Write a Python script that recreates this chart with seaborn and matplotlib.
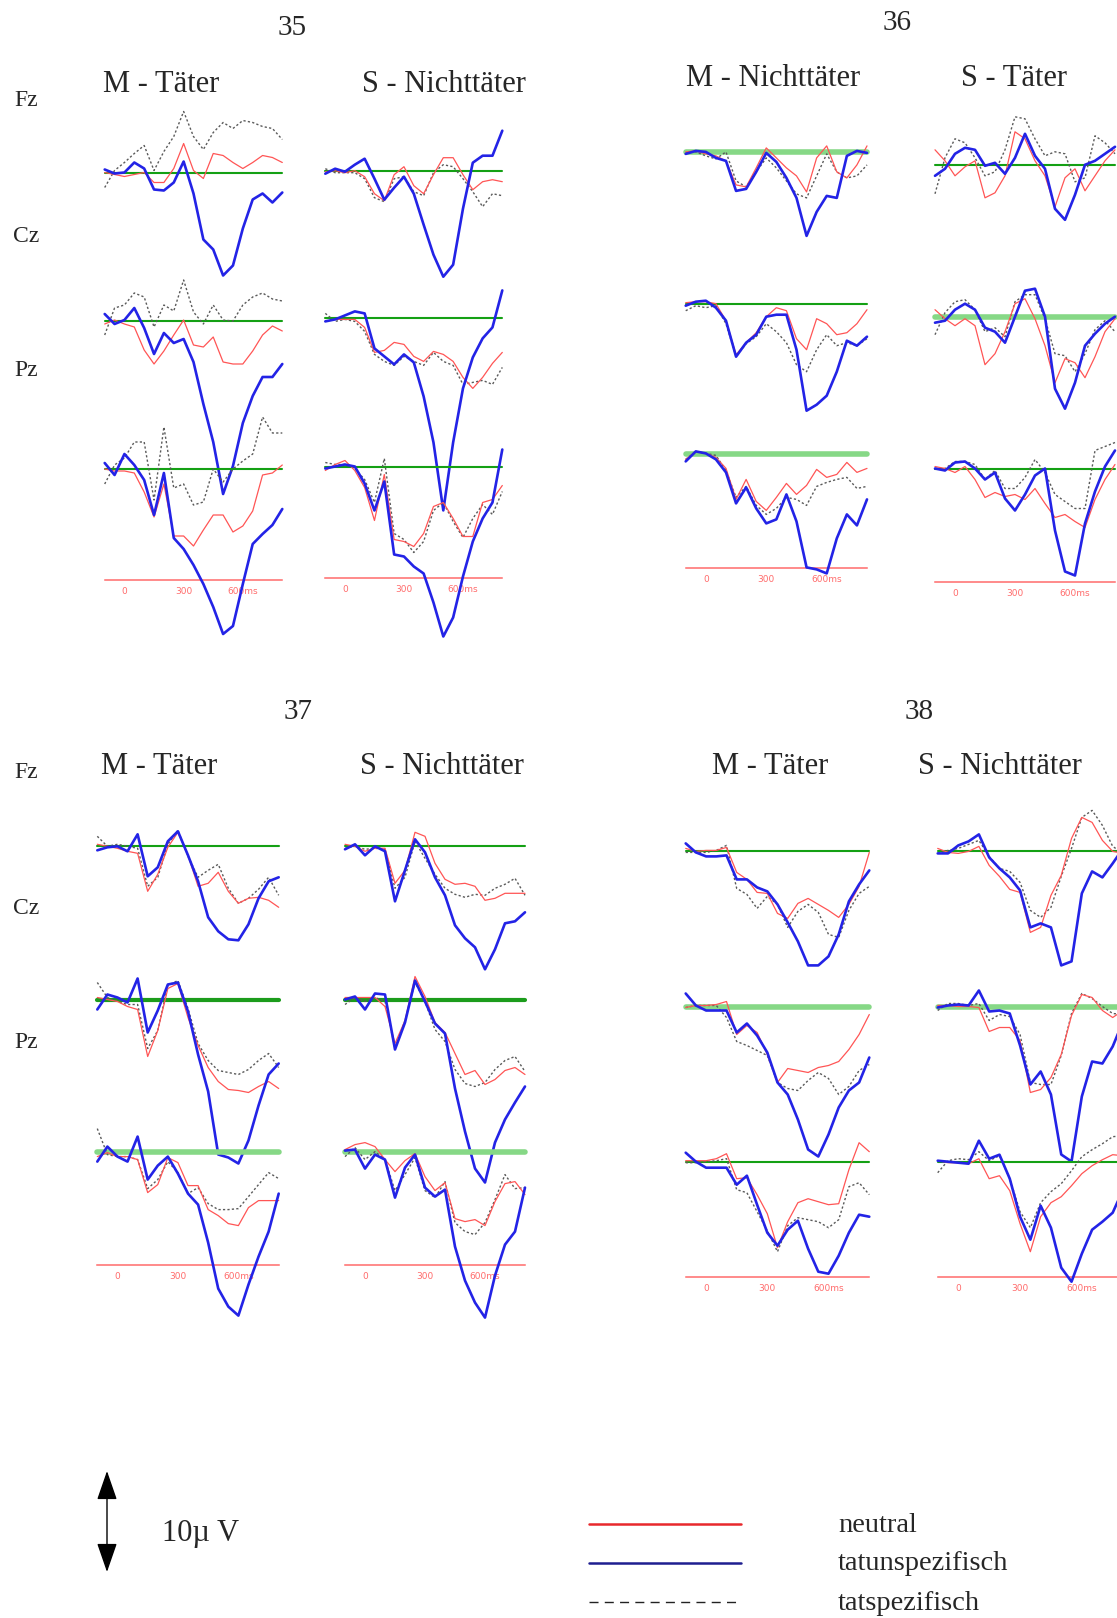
import matplotlib
matplotlib.use("Agg")
import matplotlib.pyplot as plt
from matplotlib.lines import Line2D
from matplotlib.patches import FancyArrowPatch
import seaborn as sns

sns.set_style("white")
plt.rcParams["font.family"] = ["Liberation Serif", "DejaVu Serif"]

# ---------------- data ----------------
TIMES = [-100, -50, 0, 50, 100, 150, 200, 250, 300, 350, 400, 450, 500, 550, 600, 650, 700, 750, 800]
TICKS = [0, 300, 600]
TICK_LABELS = ["0", "300", "600ms"]
SUBJECTS = ["35", "36", "37", "38"]
CONDS = ["M", "S"]
ELECTRODES = ["Fz", "Cz", "Pz"]
TITLES = {("35", "M"): "M - Täter", ("35", "S"): "S - Nichttäter",
          ("36", "M"): "M - Nichttäter", ("36", "S"): "S - Täter",
          ("37", "M"): "M - Täter", ("37", "S"): "S - Nichttäter",
          ("38", "M"): "M - Täter", ("38", "S"): "S - Nichttäter"}
LEGEND_LABELS = ["neutral", "tatunspezifisch", "tatspezifisch"]
SCALE_LABEL = "10µ V"

# amplitudes in µV (positive plotted downwards)
s35_M_Fz_neu = [0, 0.2, 0.4, 0.2, 0, 1.0, 1.0, -0.4, -2.9, -0.2, 0.6, -1.9, -1.7, -1.0, -0.4, -1.0, -1.7, -1.5, -1.0]
s35_M_Fz_uns = [-0.3, 0.1, 0, -1.0, -0.4, 1.7, 1.8, 1.0, -1.1, 2.1, 6.7, 7.7, 10.3, 9.3, 5.6, 2.7, 2.1, 3.0, 2.0]
s35_M_Fz_spz = [1.5, -0.2, -1.0, -1.9, -2.7, -0.2, -2.1, -3.6, -6.1, -3.6, -2.3, -4.0, -5.0, -4.4, -5.2, -5.0, -4.6, -4.4, -3.3]
s35_M_Cz_neu = [0.3, -0.1, 0.3, 0.6, 2.9, 4.3, 3.0, 1.4, -0.1, 2.4, 2.6, 1.6, 4.1, 4.3, 4.3, 3.0, 1.4, 0.5, 1.0]
s35_M_Cz_uns = [-0.7, 0.3, -0.1, -1.3, 0.7, 3.3, 1.2, 2.2, 1.8, 4.1, 8.3, 12.1, 17.3, 14.5, 10.2, 7.5, 5.6, 5.6, 4.3]
s35_M_Cz_spz = [1.4, -1.3, -1.6, -2.8, -2.4, 0.6, -1.6, -1.0, -4.1, -0.9, 0.3, -1.6, -0.1, 0.0, -1.6, -2.4, -2.8, -2.2, -2.0]
s35_M_Pz_neu = [0.0, 0.2, 0.2, 0.4, 2.3, 4.8, 1.5, 6.7, 6.7, 7.7, 6.1, 4.6, 4.6, 6.3, 5.7, 4.2, 0.6, 0.4, -0.4]
s35_M_Pz_uns = [-0.6, 0.6, -1.5, -0.4, 1.1, 4.6, 0.4, 6.9, 8.0, 9.6, 11.5, 13.8, 16.5, 15.7, 11.5, 7.5, 6.5, 5.6, 4.0]
s35_M_Pz_spz = [1.5, -0.4, -1.1, -2.7, -2.7, 3.1, -4.2, 1.9, 1.5, 3.6, 3.3, 0.0, 1.3, 0.0, -0.8, -1.5, -5.2, -3.6, -3.6]

s35_S_Fz_neu = [0.1, 0.0, 0.2, 0.0, 0.6, 2.3, 3.0, 0.4, -0.4, 1.5, 2.3, 0.4, -1.3, -1.3, 0.4, 1.9, 1.1, 0.9, 1.1]
s35_S_Fz_uns = [0.3, -0.2, 0.1, -0.6, -1.2, 0.8, 2.9, 1.7, 0.6, 2.3, 5.4, 8.4, 10.6, 9.4, 3.8, -0.8, -1.5, -1.5, -4.0]
s35_S_Fz_spz = [-0.2, 0.2, 0.2, 0.2, 0.8, 2.7, 3.1, 0.8, 0.6, 2.1, 2.5, 0.2, -0.6, -0.4, 0.8, 2.1, 3.6, 2.3, 2.5]
s35_S_Cz_neu = [0.3, 0.1, 0.1, 0.1, 0.9, 3.4, 3.2, 2.4, 2.6, 3.8, 4.3, 3.3, 3.6, 4.3, 5.9, 7.0, 5.9, 4.5, 3.4]
s35_S_Cz_uns = [0.3, 0.1, -0.3, -0.7, -0.5, 3.0, 3.8, 4.6, 3.6, 4.4, 7.8, 12.4, 19.2, 12.4, 7.0, 3.9, 2.0, 0.9, -2.8]
s35_S_Cz_spz = [-0.5, 0.3, 0.1, 0.3, 1.3, 3.6, 4.3, 4.7, 3.8, 4.3, 4.7, 3.4, 4.3, 4.7, 6.6, 6.4, 6.2, 6.6, 4.9]
s35_S_Pz_neu = [0.4, -0.2, -0.6, 0.4, 2.1, 5.4, 0.8, 7.3, 7.5, 8.0, 6.7, 4.0, 3.6, 5.2, 7.0, 7.0, 3.6, 3.3, 1.9]
s35_S_Pz_uns = [0.2, 0.0, -0.2, 0.0, 1.7, 4.4, 1.5, 8.8, 9.0, 10.0, 10.7, 13.6, 17.0, 15.1, 11.0, 7.5, 5.2, 3.6, -1.7]
s35_S_Pz_spz = [-0.4, -0.2, -0.2, 0.2, 1.3, 3.6, -0.8, 6.7, 7.3, 8.6, 7.5, 4.4, 3.6, 5.5, 7.1, 5.2, 3.8, 4.8, 2.5]

s36_M_Fz_neu = [0.0, -0.1, 0.2, 0.4, 0.9, 3.3, 3.5, 1.6, -0.4, 0.6, 1.6, 2.4, 4.0, 0.6, -0.6, 2.0, 2.6, 1.3, -0.6]
s36_M_Fz_uns = [0.2, -0.1, 0.0, 0.6, 0.9, 3.9, 3.7, 2.0, 0.1, 1.0, 2.6, 4.6, 8.4, 6.0, 4.4, 4.6, 0.4, -0.1, 0.1]
s36_M_Fz_spz = [0.1, 0.0, 0.4, 0.7, 0.0, 2.9, 3.5, 2.0, 0.6, 1.6, 2.9, 4.2, 4.6, 2.4, 0.2, 2.0, 2.6, 2.4, 1.3]
s36_M_Cz_neu = [-0.1, -0.2, -0.2, 0.0, 1.7, 5.1, 3.9, 2.9, 1.3, 0.4, 0.7, 3.5, 4.6, 1.5, 2.0, 3.1, 2.9, 2.0, 0.6]
s36_M_Cz_uns = [0.2, -0.2, -0.3, 0.4, 1.7, 5.3, 3.9, 3.1, 1.3, 1.1, 1.1, 4.6, 10.7, 10.1, 9.2, 6.8, 3.7, 4.2, 3.3]
s36_M_Cz_spz = [0.7, 0.2, 0.4, 0.2, 2.0, 5.3, 4.0, 3.3, 2.0, 2.8, 3.9, 6.1, 6.8, 4.6, 3.1, 4.2, 3.9, 4.2, 3.5]
s36_M_Pz_neu = [0.5, -0.3, -0.1, 0.3, 1.4, 4.5, 2.5, 4.7, 5.6, 4.3, 2.9, 4.0, 3.1, 1.5, 2.3, 2.0, 0.8, 1.8, 1.4]
s36_M_Pz_uns = [0.7, -0.3, -0.1, 0.5, 1.8, 4.9, 3.3, 5.4, 6.9, 6.5, 4.0, 6.7, 11.3, 11.5, 11.9, 8.4, 6.0, 7.1, 4.5]
s36_M_Pz_spz = [0.5, -0.3, -0.1, 0.1, 1.6, 4.3, 3.2, 5.1, 6.0, 5.4, 4.3, 4.5, 5.1, 3.2, 2.8, 2.5, 2.3, 3.4, 3.2]

s36_S_Fz_neu = [-1.5, -0.4, 1.1, 0.2, -0.4, 3.3, 2.8, 1.1, -3.3, -2.6, -0.4, 1.1, 4.2, 1.3, 0.4, 2.6, 1.1, -0.4, -1.5]
s36_S_Fz_uns = [1.1, 0.4, -1.1, -1.7, -1.5, 0.1, -0.2, 0.9, -0.7, -3.1, -0.9, 0.4, 4.4, 5.5, 3.0, 0.0, -0.4, -1.1, -1.8]
s36_S_Fz_spz = [2.9, -0.7, -2.6, -2.2, -0.7, 1.1, 0.7, -1.5, -4.8, -4.6, -2.6, -0.9, -1.3, -1.1, 1.7, 1.3, -2.9, -2.2, -1.1]
s36_S_Cz_neu = [-0.7, 0.2, 0.9, 0.2, 0.9, 4.8, 3.7, 1.5, -1.3, -1.8, 0.2, 2.9, 6.6, 4.2, 4.6, 6.1, 4.0, 1.5, 0.2]
s36_S_Cz_uns = [0.6, 0.4, -0.7, -1.3, -0.7, 1.1, 1.5, 2.6, 0.0, -2.6, -2.8, 0.0, 7.2, 9.2, 6.6, 2.9, 1.7, 0.7, 0.0]
s36_S_Cz_spz = [1.8, -0.4, -1.5, -1.7, -0.7, 1.5, 1.1, 2.0, -1.5, -2.2, -2.2, 0.2, 3.7, 3.9, 5.5, 3.7, 1.3, 0.4, 1.5]
s36_S_Pz_neu = [-0.2, 0.0, 0.4, -0.2, 1.1, 2.9, 2.4, 2.8, 2.6, 3.1, 2.0, 3.5, 4.9, 4.6, 5.3, 5.9, 3.1, 1.1, -0.4]
s36_S_Pz_uns = [0.0, 0.2, -0.6, -0.7, 0.0, 1.1, 0.4, 3.0, 4.2, 2.6, 0.7, 0.0, 6.2, 10.3, 10.7, 5.5, 2.3, -0.2, -1.8]
s36_S_Pz_spz = [0.0, 0.0, -0.7, -0.7, -0.4, 1.1, 0.2, 2.0, 2.0, 0.9, -0.9, 0.4, 2.6, 3.3, 4.0, 4.0, -1.8, -2.2, -2.6]

s37_M_Fz_neu = [-0.2, 0.0, 0.2, 0.5, 0.7, 4.5, 2.8, 0.1, -1.4, 0.9, 4.0, 3.7, 2.6, 4.5, 5.7, 5.2, 5.1, 5.4, 6.1]
s37_M_Fz_uns = [0.4, 0.1, 0.0, 0.5, -1.2, 3.0, 2.1, -0.5, -1.5, 0.9, 3.5, 7.1, 8.5, 9.3, 9.4, 7.8, 5.2, 3.5, 3.1]
s37_M_Fz_spz = [-1.0, 0.0, -0.2, 0.0, 0.2, 4.0, 3.1, -0.2, -1.6, 1.0, 3.1, 2.4, 1.8, 4.2, 5.7, 5.2, 4.3, 3.1, 4.9]
s37_M_Cz_neu = [-0.2, 0.0, 0.2, 0.7, 1.0, 5.7, 3.1, -1.1, -1.6, 1.8, 4.6, 6.8, 8.2, 9.0, 9.1, 9.3, 8.7, 8.2, 8.9]
s37_M_Cz_uns = [1.0, -0.5, -0.2, 0.3, -2.1, 3.3, 1.1, -1.5, -1.7, 1.2, 5.5, 9.2, 15.5, 15.8, 16.4, 14.1, 10.6, 7.5, 6.4]
s37_M_Cz_spz = [-1.7, -0.2, 0.2, 0.5, 0.5, 4.9, 3.1, -1.4, -1.9, 0.9, 4.4, 6.1, 7.1, 7.3, 7.5, 7.0, 6.1, 5.4, 6.8]
s37_M_Pz_neu = [0.5, 0.1, 0.5, 0.5, 0.8, 4.1, 3.3, 0.6, 1.1, 3.4, 3.4, 5.8, 6.4, 7.2, 7.4, 5.6, 4.9, 4.9, 4.9]
s37_M_Pz_uns = [1.0, -0.5, 0.5, 1.0, -1.5, 2.8, 1.4, 0.5, 2.2, 4.2, 5.3, 9.1, 13.7, 15.5, 16.4, 13.3, 10.5, 8.0, 4.2]
s37_M_Pz_spz = [-2.3, 0.3, 0.5, 0.5, 0.8, 3.7, 2.8, 1.0, 2.1, 4.2, 3.6, 5.2, 5.8, 5.8, 5.7, 4.5, 3.3, 2.1, 2.7]

s37_S_Fz_neu = [-0.2, 0.0, 0.5, 0.2, 0.2, 3.7, 2.4, -1.4, -1.0, 1.7, 3.3, 3.8, 3.7, 4.0, 5.4, 5.2, 4.7, 4.7, 4.7]
s37_S_Fz_uns = [0.3, -0.2, 0.9, 0.0, 0.5, 5.5, 2.4, -0.7, 0.6, 3.1, 4.9, 7.9, 9.2, 10.1, 12.3, 10.3, 7.7, 7.5, 6.6]
s37_S_Fz_spz = [0.2, 0.0, 0.3, 0.2, 0.3, 4.2, 3.1, -0.5, 1.2, 2.8, 4.2, 4.8, 5.1, 4.8, 4.9, 4.2, 3.8, 3.2, 4.9]
s37_S_Cz_neu = [-0.2, -0.2, -0.2, -0.2, 0.7, 4.4, 2.1, -2.3, -0.3, 2.3, 3.3, 5.4, 7.5, 7.1, 8.5, 8.0, 7.1, 6.8, 7.5]
s37_S_Cz_uns = [0.0, -0.3, 1.0, -0.6, -0.5, 5.0, 2.3, -1.9, 0.2, 2.4, 3.4, 8.9, 13.2, 16.9, 18.3, 14.3, 12.0, 10.3, 8.7]
s37_S_Cz_spz = [0.5, -0.2, 0.2, -0.2, 0.2, 4.9, 2.1, -1.7, 0.2, 3.0, 4.2, 7.0, 8.4, 8.7, 8.3, 7.0, 6.1, 5.7, 7.2]
s37_S_Pz_neu = [-0.2, -0.7, -0.9, -0.5, 0.8, 2.0, 0.9, 0.2, 2.5, 3.9, 3.1, 6.7, 7.0, 6.8, 7.4, 5.0, 3.2, 3.0, 4.3]
s37_S_Pz_uns = [-0.1, -0.2, 1.7, 0.3, 0.8, 4.6, 1.6, 0.3, 3.6, 4.5, 3.8, 9.5, 12.9, 15.1, 16.6, 12.4, 9.3, 8.0, 3.6]
s37_S_Pz_spz = [0.5, -0.4, 0.8, 0.0, 0.8, 3.9, 2.3, 0.6, 3.9, 4.6, 3.0, 7.1, 8.0, 8.3, 7.1, 4.8, 2.3, 3.7, 3.6]

s38_M_Fz_neu = [-0.3, 0.0, -0.1, -0.1, -0.4, 2.1, 2.8, 4.1, 4.2, 6.2, 6.7, 5.2, 4.7, 5.3, 5.9, 6.6, 5.3, 3.5, 0.1]
s38_M_Fz_uns = [-0.8, 0.1, 0.5, 0.5, 0.4, 2.8, 2.8, 3.6, 4.0, 5.3, 7.1, 9.0, 11.4, 11.4, 10.5, 8.3, 5.0, 3.3, 1.9]
s38_M_Fz_spz = [0.1, 0.1, 0.1, -0.1, -0.6, 3.7, 4.3, 5.7, 4.5, 5.3, 7.6, 6.0, 5.3, 6.1, 8.3, 8.6, 5.9, 4.2, 3.5]
s38_M_Cz_neu = [0.1, -0.1, -0.1, -0.2, -0.5, 2.8, 1.9, 2.6, 4.8, 7.6, 6.2, 6.4, 6.6, 6.1, 5.9, 5.5, 4.3, 2.8, 0.8]
s38_M_Cz_uns = [-1.3, -0.1, 0.4, 0.4, 0.4, 2.6, 1.7, 2.9, 4.6, 7.6, 8.8, 11.3, 14.3, 15.0, 12.8, 10.1, 8.4, 7.6, 5.1]
s38_M_Cz_spz = [0.1, -0.1, -0.1, -0.1, 1.1, 3.5, 3.9, 4.4, 4.9, 7.6, 8.2, 8.4, 7.4, 6.6, 7.2, 8.8, 8.0, 6.4, 5.8]
s38_M_Pz_neu = [-0.1, -0.1, -0.1, -0.3, -0.8, 1.7, 1.6, 3.3, 5.2, 8.6, 6.0, 4.1, 3.7, 4.0, 4.3, 4.2, 0.8, -1.9, -1.0]
s38_M_Pz_uns = [-0.9, 0.0, 0.6, 0.6, 0.6, 2.3, 1.4, 4.3, 7.1, 8.4, 6.8, 5.9, 8.7, 11.0, 11.2, 9.4, 7.1, 5.3, 5.5]
s38_M_Pz_spz = [0.1, 0.1, 0.0, -0.1, -0.3, 2.8, 3.1, 5.0, 6.9, 9.0, 6.4, 5.6, 5.8, 6.0, 6.6, 5.8, 2.5, 2.1, 3.3]

s38_S_Fz_neu = [-0.3, 0.1, 0.2, 0.0, -0.5, 1.4, 2.5, 3.8, 4.1, 8.1, 7.6, 4.4, 2.4, -1.3, -3.4, -2.9, -1.1, 0.0, 0.2]
s38_S_Fz_uns = [0.2, 0.2, -0.6, -1.0, -1.7, 0.6, 1.7, 2.6, 3.9, 7.6, 7.2, 7.6, 11.4, 11.0, 4.2, 2.0, 2.6, 1.2, -0.3]
s38_S_Fz_spz = [0.2, -0.1, -0.3, -0.7, -1.1, 0.5, 1.7, 2.0, 3.1, 5.9, 6.6, 5.6, 2.5, -0.3, -3.4, -4.1, -2.6, -0.5, 0.2]
s38_S_Cz_neu = [-0.1, -0.1, 0.0, 0.0, 0.1, 2.5, 2.1, 2.1, 3.4, 8.6, 8.3, 7.1, 4.8, 0.9, -1.2, -0.9, 0.4, 1.1, 0.4]
s38_S_Cz_uns = [0.1, -0.1, -0.2, -0.1, -1.6, 0.5, 0.4, 0.7, 3.9, 7.8, 6.5, 8.8, 14.8, 15.5, 9.0, 5.5, 5.7, 4.0, 1.5]
s38_S_Cz_spz = [0.4, -0.3, -0.3, -0.1, -0.3, 1.4, 0.8, 1.0, 2.8, 7.6, 7.8, 7.8, 4.9, 0.7, -1.3, -0.8, 0.0, 0.7, 0.8]
s38_S_Pz_neu = [-0.1, 0.1, 0.1, 0.2, -0.3, 1.7, 1.4, 2.9, 6.2, 9.0, 5.5, 4.1, 3.5, 2.4, 1.2, 0.4, -0.2, -0.7, -0.6]
s38_S_Pz_uns = [-0.1, 0.0, 0.1, 0.2, -2.1, -0.3, -0.7, 1.7, 5.5, 7.8, 4.4, 6.6, 10.6, 12.0, 9.2, 6.8, 6.0, 5.1, 2.8]
s38_S_Pz_spz = [1.1, -0.1, -0.3, -0.2, -1.0, -0.1, -0.6, 1.7, 5.0, 6.6, 4.1, 3.0, 2.2, 0.9, -0.5, -1.2, -1.8, -2.5, -2.6]

# ---------------- layout / style ----------------
W, H = 1117, 1618
PX_PER_UV = 10.0
TOP_UV = 8.0
# (x of -100 ms, x of 800 ms, baselines Fz/Cz/Pz, time-axis y) in pixels
LAYOUT = {
    ("35", "M"): (104.7, 282.3, (172.5, 321.0, 469.0), 580.0),
    ("35", "S"): (325.3, 502.3, (170.7, 318.4, 466.5), 578.0),
    ("36", "M"): (685.7, 867.0, (151.9, 303.7, 454.4), 567.8),
    ("36", "S"): (935.0, 1115.0, (164.8, 316.7, 468.5), 582.2),
    ("37", "M"): (97.3, 278.7, (846.3, 999.5, 1151.6), 1265.4),
    ("37", "S"): (345.0, 525.0, (846.3, 999.5, 1151.6), 1265.4),
    ("38", "M"): (685.7, 869.3, (851.4, 1006.5, 1161.7), 1277.0),
    ("38", "S"): (937.7, 1123.0, (851.4, 1006.5, 1161.7), 1277.0),
}
GREEN_STYLES = {
    "reg": dict(color="#14a014", lw=1.5),
    "light": dict(color="#86d886", lw=4.0),
    "dark": dict(color="#1c9c1c", lw=3.0),
}
GREEN_KIND = {
    ("35", "M"): ("reg", "reg", "reg"), ("35", "S"): ("reg", "reg", "reg"),
    ("36", "M"): ("light", "reg", "light"), ("36", "S"): ("reg", "light", "reg"),
    ("37", "M"): ("reg", "dark", "light"), ("37", "S"): ("reg", "dark", "light"),
    ("38", "M"): ("reg", "light", "reg"), ("38", "S"): ("reg", "light", "reg"),
}
RED = "#ff5555"
BLUE = "#2323e6"
GREY = "#5a5a5a"
AXIS_RED = "#ff6b6b"


def fx(x):
    return x / W


def fy(y):
    return 1 - y / H


fig = plt.figure(figsize=(W / 100, H / 100), dpi=100)
fig.patch.set_facecolor("white")

for subj in SUBJECTS:
    for cond in CONDS:
        x0, x1, bases, axis_y = LAYOUT[(subj, cond)]
        down_uv = (axis_y - bases[2]) / PX_PER_UV
        for i, el in enumerate(ELECTRODES):
            b = bases[i]
            top_px = b - TOP_UV * PX_PER_UV
            bot_px = b + down_uv * PX_PER_UV
            ax = fig.add_axes([fx(x0), fy(bot_px), (x1 - x0) / W, (bot_px - top_px) / H])
            ax.set_facecolor("none")
            ax.set_xlim(-100, 800)
            ax.set_ylim(down_uv, -TOP_UV)
            g = GREEN_STYLES[GREEN_KIND[(subj, cond)][i]]
            ax.axhline(0, color=g["color"], lw=g["lw"], zorder=1)
            key = f"s{subj}_{cond}_{el}"
            neu = globals()[key + "_neu"]
            uns = globals()[key + "_uns"]
            spz = globals()[key + "_spz"]
            sns.lineplot(x=TIMES, y=spz, ax=ax, color=GREY, lw=1.0,
                         linestyle=(0, (1.6, 1.6)), zorder=2)
            sns.lineplot(x=TIMES, y=neu, ax=ax, color=RED, lw=0.9, zorder=3)
            sns.lineplot(x=TIMES, y=uns, ax=ax, color=BLUE, lw=1.9, zorder=4)
            for ln in ax.lines:
                ln.set_clip_on(False)
                ln.set_solid_joinstyle("round")
                ln.set_solid_capstyle("round")
            ax.set_xlabel("")
            ax.set_ylabel("")
            ax.set_yticks([])
            for sp in ax.spines.values():
                sp.set_visible(False)
            if el == "Pz":
                ax.spines["bottom"].set_visible(True)
                ax.spines["bottom"].set_color(AXIS_RED)
                ax.spines["bottom"].set_linewidth(1.1)
                ax.set_xticks(TICKS)
                ax.set_xticklabels(TICK_LABELS, fontfamily="DejaVu Sans")
                ax.tick_params(axis="x", direction="in", length=5, width=0.9,
                               color=AXIS_RED, labelcolor=AXIS_RED,
                               labelsize=6.5, pad=5)
            else:
                ax.set_xticks([])

# subject numbers
for txt, (x, y) in zip(SUBJECTS, [(292, 28), (897, 23), (298, 712), (919, 712)]):
    fig.text(fx(x), fy(y), txt, ha="center", va="center", fontsize=21)

# condition titles
TITLE_POS = {("35", "M"): (161, 84), ("35", "S"): (444, 84),
             ("36", "M"): (773, 78), ("36", "S"): (1014, 78),
             ("37", "M"): (159, 767), ("37", "S"): (442, 767),
             ("38", "M"): (770, 767), ("38", "S"): (1000, 767)}
for k, (x, y) in TITLE_POS.items():
    fig.text(fx(x), fy(y), TITLES[k], ha="center", va="center", fontsize=22)

# electrode labels
for y0 in (0, 673):
    for el, y in zip(ELECTRODES, (100, 236, 370)):
        fig.text(fx(26), fy(y + y0), el, ha="center", va="center", fontsize=17)

# scale arrow (10 µV)
arrow = FancyArrowPatch((fx(107), fy(1471)), (fx(107), fy(1572)),
                        transform=fig.transFigure,
                        arrowstyle="<|-|>,head_length=1.3,head_width=0.45",
                        mutation_scale=14, color="black", lw=1.0,
                        shrinkA=0, shrinkB=0)
fig.add_artist(arrow)
fig.text(fx(201), fy(1533), SCALE_LABEL, ha="center", va="center", fontsize=22)

# legend
leg_styles = [dict(color="#e8282c", lw=1.8, linestyle="-"),
              dict(color="#1e1e90", lw=1.8, linestyle="-"),
              dict(color="#222222", lw=1.0, linestyle=(0, (6.5, 4.5)))]
for lab, st, y in zip(LEGEND_LABELS, leg_styles, (1524, 1563, 1602)):
    fig.add_artist(Line2D([fx(589), fx(741)], [fy(y), fy(y)],
                          transform=fig.transFigure, **st))
    fig.text(fx(838), fy(y + 1), lab, ha="left", va="center", fontsize=20.5)

fig.savefig("out.png", dpi=100, facecolor="white")
